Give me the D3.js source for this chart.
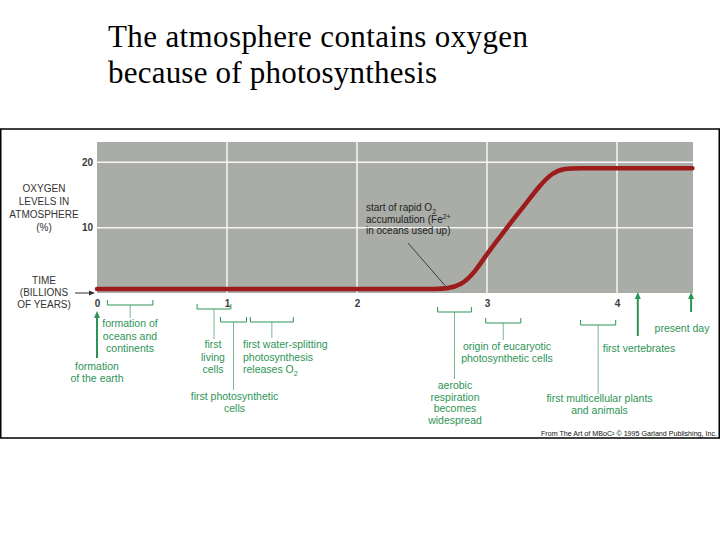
<!DOCTYPE html>
<html><head><meta charset="utf-8">
<script src="https://cdn.jsdelivr.net/npm/d3@7/dist/d3.min.js"></script>
<style>body{margin:0;background:#fff}svg{display:block}</style>
</head><body>
<svg id="c" width="720" height="540"></svg>
<script>
// ---------- data ----------
const titleLines = ["The atmosphere contains oxygen", "because of photosynthesis"];
const timeBy    = [0, 0.5, 1, 1.5, 2, 2.5, 2.6, 2.7, 2.8, 2.9, 3.0, 3.1, 3.2, 3.3, 3.4, 3.5, 3.6, 3.7, 4.0, 4.58];
const oxygenPct = [0.6, 0.6, 0.6, 0.6, 0.6, 0.6, 0.6, 0.7, 1.2, 3.0, 6.0, 8.6, 11.2, 13.7, 16.3, 18.4, 19.1, 19.1, 19.1, 19.1];
const xTicks = [0, 1, 2, 3, 4];
const yTicks = [10, 20];
const yLabelLines = ["OXYGEN", "LEVELS IN", "ATMOSPHERE", "(%)"];
const xLabelLines = ["TIME", "(BILLIONS", "OF YEARS)"];
const bracketStart = [0.08, 0.77, 0.95, 1.18, 2.62, 2.99, 3.72];
const bracketEnd   = [0.43, 1.03, 1.15, 1.51, 2.88, 3.26, 3.99];
const bracketLabels = [
  ["formation of", "oceans and", "continents"],
  ["first", "living", "cells"],
  ["first photosynthetic", "cells"],
  ["first water-splitting", "photosynthesis", "releases O|2"],
  ["aerobic", "respiration", "becomes", "widespread"],
  ["origin of eucaryotic", "photosynthetic cells"],
  ["first multicellular plants", "and animals"]
];
const arrowTimes = [0, 4.16, 4.57];
const arrowLabels = [["formation", "of the earth"], ["first vertebrates"], ["present day"]];
const noteTime = 2.68;
const noteLines = ["start of rapid O|2", "accumulation (Fe^2+", "in oceans used up)"];
const creditText = "From The Art of MBoC\u00B2 \u00A9 1995 Garland Publishing, Inc.";

// ---------- layout ----------
const bracketLayout = [
  {y: 305, stem: 318, tx: 130, anchor: "middle", ty: 327, dy: 12.5},
  {y: 309, stem: 339, tx: 213, anchor: "middle", ty: 348, dy: 12.5},
  {y: 322, stem: 390, tx: 234.5, anchor: "middle", ty: 400, dy: 12},
  {y: 322, stem: 338, tx: 243, anchor: "start", ty: 348, dy: 12.5},
  {y: 312, stem: 379, tx: 455, anchor: "middle", ty: 389, dy: 11.5},
  {y: 323, stem: 340, tx: 507, anchor: "middle", ty: 350, dy: 12},
  {y: 325, stem: 394, tx: 599.5, anchor: "middle", ty: 402, dy: 12}
];
const arrowLayout = [
  {y0: 358, y1: 311, tx: 97, ty: 370, dy: 12},
  {y0: 336, y1: 292, tx: 639, ty: 352, dy: 12},
  {y0: 312, y1: 292, tx: 682, ty: 332, dy: 12}
];
const GREEN = "#2e9455", GRAY = "#aaaca7", RED = "#9c1b1b";
const SANS = "'Liberation Sans', Arial, sans-serif";

const svg = d3.select("#c");
svg.append("rect").attr("width", 720).attr("height", 540).attr("fill", "#fff");

const x = d3.scaleLinear().domain([0, 4.6]).range([97, 695]);
const y = d3.scaleLinear().domain([0, 23.1]).range([293, 142]);

// title
svg.append("g").selectAll("text").data(titleLines).join("text")
  .attr("x", 108).attr("y", (d, i) => 47 + i * 36)
  .attr("font-family", "'Liberation Serif', 'Times New Roman', serif")
  .attr("font-size", 31).attr("fill", "#000")
  .attr("textLength", (d, i) => i === 0 ? 420 : 329)
  .attr("lengthAdjust", "spacing")
  .text(d => d);

// frame
svg.append("rect").attr("x", 0.75).attr("y", 129).attr("width", 718.5).attr("height", 309)
  .attr("fill", "none").attr("stroke", "#000").attr("stroke-width", 1.5);

// plot background
svg.append("rect").attr("x", x(0)).attr("y", y(23.1))
  .attr("width", 693 - x(0)).attr("height", y(0) - y(23.1)).attr("fill", GRAY);

// grid
svg.append("g").selectAll("line").data(xTicks.filter(d => d > 0)).join("line")
  .attr("x1", d => x(d)).attr("x2", d => x(d)).attr("y1", y(23.1)).attr("y2", y(0))
  .attr("stroke", "#fff").attr("stroke-width", 1.5).attr("opacity", 0.9);
svg.append("g").selectAll("line").data(yTicks).join("line")
  .attr("x1", x(0)).attr("x2", 693).attr("y1", d => y(d)).attr("y2", d => y(d))
  .attr("stroke", "#fff").attr("stroke-width", 1.5).attr("opacity", 0.9);

// axes (labels only)
const yAxis = svg.append("g").attr("transform", `translate(${x(0)},0)`)
  .call(d3.axisLeft(y).tickValues(yTicks).tickFormat(d3.format("d")).tickSize(0).tickPadding(4));
const xAxis = svg.append("g").attr("transform", `translate(0,${y(0)})`)
  .call(d3.axisBottom(x).tickValues(xTicks).tickFormat(d3.format("d")).tickSize(0).tickPadding(7));
[yAxis, xAxis].forEach(g => {
  g.select(".domain").remove();
  g.selectAll("text").attr("font-family", SANS).attr("font-size", 10)
    .attr("font-weight", "bold").attr("fill", "#3a3a3a");
});

// curve
const pts = timeBy.map((t, i) => [t, oxygenPct[i]]);
svg.append("path").datum(pts)
  .attr("d", d3.line().x(d => x(d[0])).y(d => y(d[1])).curve(d3.curveBasis))
  .attr("fill", "none").attr("stroke", RED).attr("stroke-width", 4.5)
  .attr("stroke-linecap", "round").attr("stroke-linejoin", "round");

// left labels
svg.append("g").selectAll("text").data(yLabelLines).join("text")
  .attr("x", 44).attr("y", (d, i) => 192 + i * 13)
  .attr("text-anchor", "middle").attr("font-family", SANS).attr("font-size", 10)
  .attr("fill", "#333").text(d => d);
svg.append("g").selectAll("text").data(xLabelLines).join("text")
  .attr("x", 44).attr("y", (d, i) => 284 + i * 12)
  .attr("text-anchor", "middle").attr("font-family", SANS).attr("font-size", 10)
  .attr("fill", "#333").text(d => d);
// arrow to baseline
svg.append("line").attr("x1", 75).attr("x2", 92).attr("y1", 293).attr("y2", 293)
  .attr("stroke", "#333").attr("stroke-width", 1);
svg.append("path").attr("d", "M95,293 L89,290.5 L89,295.5 Z").attr("fill", "#333");

// rich text helper: "|" => subscript, "^" => superscript
function richLine(sel, str) {
  if (str.includes("|")) {
    const [a, b] = str.split("|");
    sel.append("tspan").text(a);
    sel.append("tspan").attr("font-size", "70%").attr("dy", 2.5).text(b);
  } else if (str.includes("^")) {
    const [a, b] = str.split("^");
    sel.append("tspan").text(a);
    sel.append("tspan").attr("font-size", "70%").attr("dy", -4).text(b);
    sel.append("tspan").attr("dy", 4).text("");
  } else sel.text(str);
}

// annotation on the curve
const note = svg.append("g").attr("font-family", SANS).attr("font-size", 10).attr("fill", "#222");
noteLines.forEach((s, i) => {
  const t = note.append("text").attr("x", 366).attr("y", 211 + i * 11.5);
  richLine(t, s);
});
svg.append("line").attr("x1", 408).attr("y1", 243)
  .attr("x2", x(noteTime)).attr("y2", y(0.7) - 2.5)
  .attr("stroke", "#222").attr("stroke-width", 0.8);

// brackets
const bg = svg.append("g");
bracketLabels.forEach((lines, i) => {
  const L = bracketLayout[i];
  const x0 = x(bracketStart[i]), x1 = x(bracketEnd[i]), xc = (x0 + x1) / 2;
  bg.append("path")
    .attr("d", `M${x0},${L.y - 5} L${x0},${L.y} L${x1},${L.y} L${x1},${L.y - 5}`)
    .attr("fill", "none").attr("stroke", GREEN).attr("stroke-width", 1);
  bg.append("line").attr("x1", xc).attr("x2", xc).attr("y1", L.y).attr("y2", L.stem)
    .attr("stroke", GREEN).attr("stroke-width", 0.8).attr("opacity", 0.8);
  lines.forEach((s, j) => {
    const t = bg.append("text").attr("x", L.tx).attr("y", L.ty + j * L.dy)
      .attr("text-anchor", L.anchor).attr("font-family", SANS).attr("font-size", 10.5)
      .attr("fill", GREEN);
    richLine(t, s);
  });
});

// arrows
arrowLabels.forEach((lines, i) => {
  const L = arrowLayout[i];
  const xa = x(arrowTimes[i]);
  bg.append("line").attr("x1", xa).attr("x2", xa).attr("y1", L.y0).attr("y2", L.y1 + 5)
    .attr("stroke", GREEN).attr("stroke-width", 2);
  bg.append("path").attr("d", `M${xa},${L.y1} L${xa - 3},${L.y1 + 7} L${xa + 3},${L.y1 + 7} Z`)
    .attr("fill", GREEN);
  lines.forEach((s, j) => {
    bg.append("text").attr("x", L.tx).attr("y", L.ty + j * L.dy)
      .attr("text-anchor", "middle").attr("font-family", SANS).attr("font-size", 10.5)
      .attr("fill", GREEN).text(s);
  });
});

// credit
svg.append("text").attr("x", 717).attr("y", 436).attr("text-anchor", "end")
  .attr("font-family", SANS).attr("font-size", 7).attr("fill", "#111")
  .attr("textLength", 176).attr("lengthAdjust", "spacingAndGlyphs")
  .text(creditText);
</script>
</body></html>
